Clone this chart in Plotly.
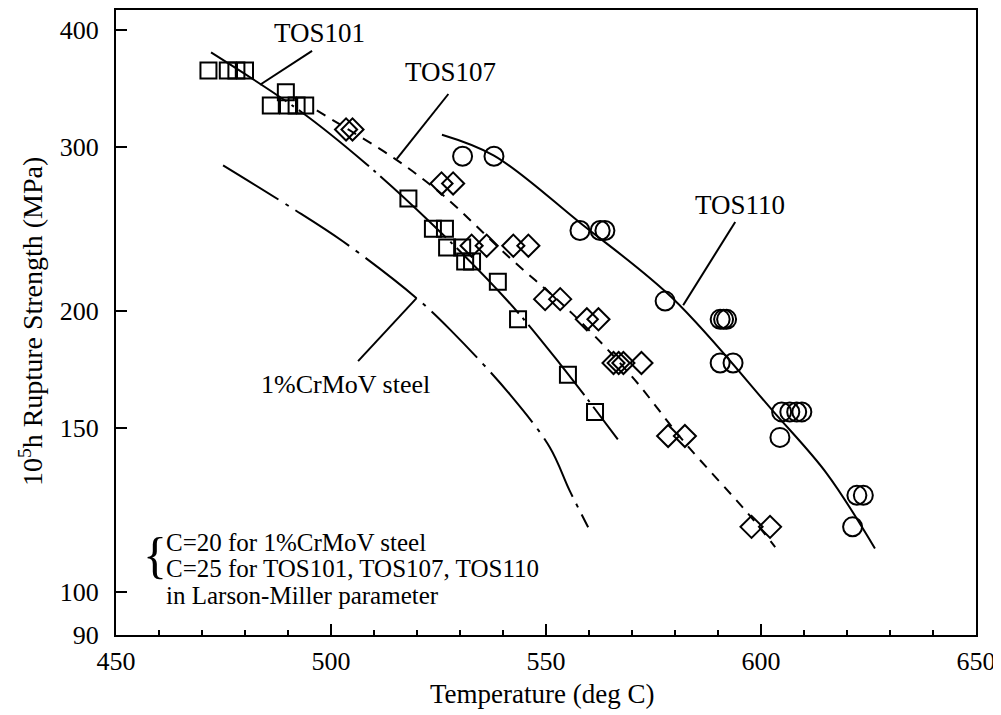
import math
import plotly.graph_objects as go

# ---- data ----
tos101_temp = [471.5, 476, 478, 480, 486, 489.5, 490, 492, 494, 518, 523.7, 526.5, 527, 530.5, 531.2, 532.8, 538.8, 543.5, 555.1, 561.4]
tos101_str = [362, 362, 362, 362, 332, 343, 332, 332, 332, 264, 245, 245, 234, 234, 226, 226, 215, 196, 171, 156]

tos107_temp = [503.5, 505, 525.7, 528.4, 532.7, 536.2, 542.4, 545.9, 549.8, 553.3, 559.5, 562.2, 565.7, 566.9, 568, 572.2, 578.4, 582.3, 597.8, 602.1]
tos107_str = [313, 313, 274, 274, 235, 235, 235, 235, 206, 206, 196, 196, 176, 176, 176, 176, 147, 147, 117.5, 117.5]

tos110_temp = [530.6, 537.9, 557.9, 562.6, 563.7, 577.7, 590.5, 591.3, 592.0, 590.5, 593.5, 604.8, 606.7, 608.3, 609.5, 604.4, 622.3, 623.8, 621.3]
tos110_str = [293, 293, 244, 244, 244, 205, 196, 196, 196, 176, 176, 156, 156, 156, 156, 146.5, 127, 127, 117.5]

# fitted curves
tos101_curve_temp = [472.1, 493.2, 508.0, 523.0, 541.2, 553.3, 566.7]
tos101_curve_str = [378.5, 326.6, 288.0, 249.2, 204.8, 175.5, 145.8]
tos107_curve_temp = [496.7, 504, 514.9, 526, 540.8, 556.3, 569.9, 581.9, 597, 603.3]
tos107_curve_str = [328, 313, 291.1, 266.3, 229.8, 198.4, 170.4, 145.3, 121.4, 111.8]
tos110_curve_temp = [525.8, 537.9, 557.9, 579.5, 602.8, 615.3, 626.5]
tos110_curve_str = [309.0, 293.5, 248.7, 206.3, 156.3, 134.0, 111.4]
crmov_curve_temp = [474.9, 490.5, 502.9, 519.9, 527.7, 541.6, 550.9, 555.5, 559.8]
crmov_curve_str = [286.5, 258.6, 237.3, 206.5, 191.1, 162.9, 142.9, 128.5, 117.4]

x_ticks = [450, 500, 550, 600, 650]
y_ticks = [90, 100, 150, 200, 300, 400]

FONT = "Liberation Serif, Times New Roman, serif"
FS = 26
BLACK = "black"

fig = go.Figure()

def curve(x, y, dash):
    fig.add_trace(go.Scatter(x=x, y=y, mode="lines",
                             line=dict(color=BLACK, width=2, dash=dash, shape="spline", smoothing=1.0),
                             showlegend=False, hoverinfo="skip"))

curve(tos101_curve_temp, tos101_curve_str, "90px,6px,3px,6px")
curve(tos107_curve_temp, tos107_curve_str, "10px,8px")
curve(tos110_curve_temp, tos110_curve_str, "solid")
curve(crmov_curve_temp, crmov_curve_str, "65px,8px,4px,8px")

def leader(x0, y0, x1, y1):
    fig.add_trace(go.Scatter(x=[x0, x1], y=[y0, y1], mode="lines", line=dict(color=BLACK, width=2),
                             showlegend=False, hoverinfo="skip"))

leader(495.6, 380, 483.5, 349.5)
leader(527.3, 341.6, 515.3, 291.1)
leader(594.0, 249.2, 581.9, 202.9)
leader(506.3, 176.8, 519.9, 206.5)

def pts(x, y, symbol, size):
    fig.add_trace(go.Scatter(x=x, y=y, mode="markers",
                             marker=dict(symbol=symbol, size=size, color=BLACK,
                                         line=dict(color=BLACK, width=2)),
                             showlegend=False))

pts(tos101_temp, tos101_str, "square-open", 16)
pts(tos107_temp, tos107_str, "diamond-open", 17)
pts(tos110_temp, tos110_str, "circle-open", 19)

def label(text, x, y, size=27):
    fig.add_annotation(x=x, y=math.log10(y), text=text, showarrow=False,
                       font=dict(family=FONT, size=size, color=BLACK), xanchor="center", yanchor="middle")

label("TOS101", 497.4, 397.3)
label("TOS107", 527.7, 360.5)
label("TOS110", 595.1, 260.0)
label("1%CrMoV steel", 503.3, 166.7, size=26)

def ptext(text, x, y, size=FS, anchor="left", angle=0):
    fig.add_annotation(xref="paper", yref="paper", x=x, y=y, text=text, showarrow=False, textangle=angle,
                       font=dict(family=FONT, size=size, color=BLACK), xanchor=anchor, yanchor="middle")

ptext("C=20 for 1%CrMoV steel", 0.056, 0.148, size=25)
ptext("C=25 for TOS101, TOS107, TOS110", 0.056, 0.107, size=25)
ptext("in Larson-Miller parameter", 0.056, 0.064, size=25)
ptext("{", 0.0455, 0.128, size=50, anchor="center")
ptext("Temperature (deg C)", 0.4965, -0.094, anchor="center", size=27)
ptext("10<sup>5</sup>h Rupture Strength (MPa)", -0.099, 0.502, anchor="center", angle=-90, size=28)

# page body has an 8px margin, so the figure is sized and offset for it
fig.update_layout(
    width=993, height=707,
    margin=dict(l=108, r=25, t=0, b=80),
    paper_bgcolor="white", plot_bgcolor="white",
    font=dict(family=FONT, size=FS, color=BLACK),
    showlegend=False,
)
fig.update_xaxes(range=[450, 650], tickvals=x_ticks, ticktext=[str(v) for v in x_ticks],
                 ticks="inside", ticklen=11, tickwidth=2, tickcolor=BLACK,
                 minor=dict(dtick=10, ticks="inside", ticklen=5, tickwidth=1.5, tickcolor=BLACK),
                 showline=True, linecolor=BLACK, linewidth=2, mirror=True, showgrid=False, zeroline=False,
                 tickfont=dict(family=FONT, size=FS, color=BLACK), ticklabelstandoff=2)
fig.update_yaxes(type="log", range=[math.log10(90), math.log10(420.2)], tickvals=y_ticks,
                 ticktext=[str(v) for v in y_ticks],
                 ticks="inside", ticklen=11, tickwidth=2, tickcolor=BLACK,
                 showline=True, linecolor=BLACK, linewidth=2, mirror=True, showgrid=False, zeroline=False,
                 tickfont=dict(family=FONT, size=FS, color=BLACK), ticklabelstandoff=10)

fig.write_html("out.html")
